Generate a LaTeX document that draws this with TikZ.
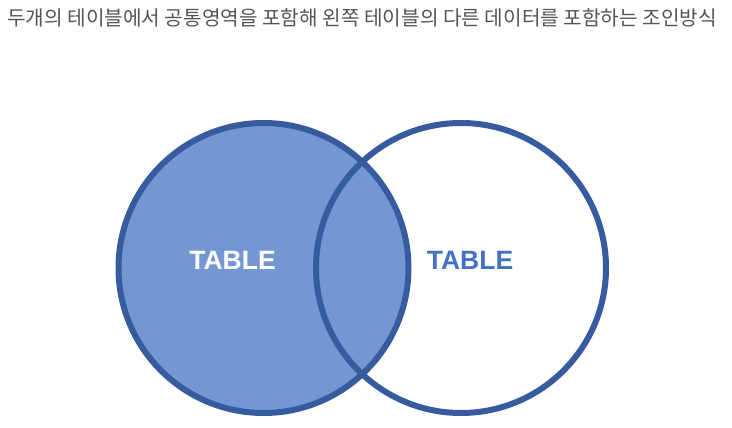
\documentclass[tikz,border=0pt]{standalone}
\usepackage{fontspec}
\setmainfont{Liberation Sans}
\newfontfamily\krfont{Noto Sans CJK KR}
\definecolor{fillblue}{HTML}{7397D3}
\definecolor{edgeblue}{HTML}{365C9F}
\definecolor{textblue}{HTML}{4472C4}
\definecolor{titlegray}{HTML}{555555}
\begin{document}
\begin{tikzpicture}[x=1pt,y=1pt,
  venn/.style={line width=6pt, draw=edgeblue},
  lbl/.style={font=\fontsize{26.5}{26.5}\selectfont\bfseries, inner sep=0pt}]
\useasboundingbox (0,0) rectangle (732,428);
\fill[white] (0,0) rectangle (732,428);
\node[anchor=west, inner sep=0pt, text=titlegray, font=\krfont\fontsize{20.2}{20.2}\selectfont] (title) at (7,410.5) {두개의 테이블에서 공통영역을 포함해 왼쪽 테이블의 다른 데이터를 포함하는 조인방식};
\node[circle, venn, fill=fillblue, minimum size=290pt, inner sep=0pt] (left) at (263.5,160) {};
\node[circle, venn, minimum size=290pt, inner sep=0pt] (right) at (461,160) {};
\node[lbl, text=white] (ltxt) at (232.5,168) {TABLE};
\node[lbl, text=textblue] (rtxt) at (470,168) {TABLE};
\end{tikzpicture}
\end{document}
